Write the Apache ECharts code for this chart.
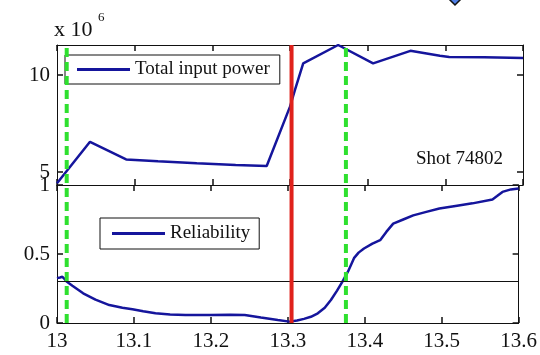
<!DOCTYPE html>
<html>
<head>
<meta charset="utf-8">
<script src="https://cdn.jsdelivr.net/npm/echarts@6/dist/echarts.min.js"></script>
<style>
  html, body { margin: 0; padding: 0; background: #fff; }
  #chart { width: 540px; height: 355px; }
</style>
</head>
<body>
<div id="chart"></div>
<script>
// Shot 74802: total input power (x 10^6) and reliability vs. time
const timeTicks = [13, 13.1, 13.2, 13.3, 13.4, 13.5, 13.6];
const powerTicks = [5, 10];
const reliabilityTicks = [0, 0.5, 1];

const powerTime = [13.000, 13.0425, 13.089, 13.13, 13.18, 13.23, 13.27, 13.300, 13.3064, 13.317, 13.362, 13.407, 13.455, 13.493, 13.505, 13.55, 13.6];
const powerValue = [4.42, 6.56, 5.65, 5.55, 5.45, 5.36, 5.31, 8.37, 9.23, 10.6, 11.55, 10.6, 11.25, 11.0, 10.93, 10.92, 10.88];

const reliabilityTime = [13.000, 13.004, 13.007, 13.010, 13.0125, 13.02, 13.034, 13.05, 13.068, 13.085, 13.098, 13.112, 13.128, 13.147, 13.167, 13.2, 13.225, 13.244, 13.265, 13.287, 13.302, 13.312, 13.321, 13.33, 13.339, 13.348, 13.356, 13.364, 13.371, 13.378, 13.386, 13.392, 13.399, 13.41, 13.42, 13.428, 13.437, 13.45, 13.463, 13.48, 13.497, 13.52, 13.54, 13.566, 13.572, 13.579, 13.59, 13.6];
const reliabilityValue = [0.325, 0.33, 0.335, 0.318, 0.300, 0.27, 0.215, 0.17, 0.13, 0.11, 0.10, 0.085, 0.07, 0.062, 0.058, 0.058, 0.06, 0.058, 0.04, 0.022, 0.01, 0.018, 0.03, 0.045, 0.07, 0.11, 0.167, 0.235, 0.30, 0.37, 0.47, 0.51, 0.54, 0.575, 0.60, 0.66, 0.72, 0.75, 0.78, 0.805, 0.83, 0.85, 0.867, 0.895, 0.92, 0.95, 0.968, 0.975];

const reliabilityThreshold = 0.3;
const greenMarkers = [13.0125, 13.372];
const redMarkers = [13.302];

const FONT = 'Liberation Serif';
const INK = '#111111';
const NAVY = '#15159c';

const powerData = powerTime.map((t, i) => [t, powerValue[i]]);
const reliabilityData = reliabilityTime.map((t, i) => [t, reliabilityValue[i]]);

const textStyle = { fontFamily: FONT, fontSize: 19, color: INK };

function frameLine() {
  return { show: true, onZero: false, lineStyle: { color: INK, width: 1 } };
}
function tickIn(values) {
  return { show: true, inside: true, length: 6, customValues: values, lineStyle: { color: INK, width: 1.5 } };
}
function tickLabel(extra) {
  return Object.assign({ show: true, fontFamily: FONT, fontSize: 21, color: INK }, extra);
}

function timeAxis(grid, position, withLabels) {
  return {
    type: 'value', gridIndex: grid, position: position,
    min: 13, max: 13.6, interval: 0.1,
    axisLine: frameLine(), axisTick: tickIn(timeTicks),
    axisLabel: withLabels ? tickLabel({ margin: 8, customValues: timeTicks, formatter: v => String(+(+v).toFixed(1)) }) : { show: false },
    splitLine: { show: false }
  };
}

function valueAxis(grid, position, min, max, ticks, withLabels) {
  return {
    type: 'value', gridIndex: grid, position: position,
    min: min, max: max,
    axisLine: frameLine(),
    axisTick: tickIn(ticks),
    axisLabel: withLabels ? tickLabel({ margin: 7, customValues: ticks }) : { show: false },
    splitLine: { show: false }
  };
}

// Full-height event markers spanning both panels
function guideSeries(t, color, dashed, width) {
  return {
    type: 'line', xAxisIndex: 4, yAxisIndex: 4, silent: true, symbol: 'none', z: 5,
    data: [[t, 0], [t, 1]],
    lineStyle: { color: color, width: width, type: dashed ? [9, 5] : 'solid' }
  };
}

const chart = echarts.init(document.getElementById('chart'), null, { renderer: 'canvas' });

chart.setOption({
  animation: false,
  backgroundColor: '#fff',
  title: [
    { text: 'x 10', left: 54, top: 19, padding: 0, textStyle: { fontFamily: FONT, fontSize: 22, fontWeight: 'normal', color: INK } },
    { text: '6', left: 98, top: 11, padding: 0, textStyle: { fontFamily: FONT, fontSize: 13, fontWeight: 'normal', color: INK } },
    { text: 'Shot 74802', left: 416, top: 150, padding: 0, textStyle: { fontFamily: FONT, fontSize: 19, fontWeight: 'normal', color: INK } }
  ],
  legend: [
    {
      data: ['Total input power'], left: 65, top: 55,
      padding: [5, 10, 5, 12], borderColor: INK, borderWidth: 1, backgroundColor: 'transparent',
      icon: 'rect', itemWidth: 53, itemHeight: 3, selectedMode: false,
      textStyle: textStyle
    },
    {
      data: ['Reliability'], left: 100, top: 218,
      padding: [6, 9, 6, 12], borderColor: INK, borderWidth: 1, backgroundColor: 'transparent',
      icon: 'rect', itemWidth: 53, itemHeight: 3, selectedMode: false,
      textStyle: textStyle
    }
  ],
  grid: [
    { left: 57, top: 45, width: 466, height: 140 },
    { left: 57, top: 185, width: 466, height: 138 },
    { left: 57, top: 45, width: 466, height: 278 }
  ],
  xAxis: [
    timeAxis(0, 'bottom', false),
    timeAxis(0, 'top', false),
    timeAxis(1, 'bottom', true),
    timeAxis(1, 'top', false),
    { type: 'value', gridIndex: 2, min: 13, max: 13.6, show: false }
  ],
  yAxis: [
    valueAxis(0, 'left', 4.33, 11.55, powerTicks, true),
    valueAxis(0, 'right', 4.33, 11.55, powerTicks, false),
    valueAxis(1, 'left', 0, 1, reliabilityTicks, true),
    valueAxis(1, 'right', 0, 1, reliabilityTicks, false),
    { type: 'value', gridIndex: 2, min: 0, max: 1, show: false }
  ],
  graphic: [
    {
      type: 'polygon', z: 100,
      shape: { points: [[448, -2], [455, 5], [462, -2], [455, -9]] },
      style: { fill: '#4f80e6', stroke: '#111', lineWidth: 1.5 }
    }
  ],
  series: [
    {
      name: 'Total input power', type: 'line', xAxisIndex: 0, yAxisIndex: 0,
      data: powerData, symbol: 'none', z: 3,
      lineStyle: { color: NAVY, width: 2.5 }, itemStyle: { color: NAVY }
    },
    {
      name: 'Reliability', type: 'line', xAxisIndex: 2, yAxisIndex: 2,
      data: reliabilityData, symbol: 'none', z: 3,
      lineStyle: { color: NAVY, width: 2.5 }, itemStyle: { color: NAVY },
      markLine: {
        silent: true, symbol: 'none', label: { show: false },
        lineStyle: { color: INK, width: 1, type: 'solid' },
        data: [{ yAxis: reliabilityThreshold }]
      }
    },
    ...greenMarkers.map(t => guideSeries(t, '#2fe02f', true, 4)),
    ...redMarkers.map(t => guideSeries(t, '#e0221c', false, 4))
  ]
});
</script>
</body>
</html>
